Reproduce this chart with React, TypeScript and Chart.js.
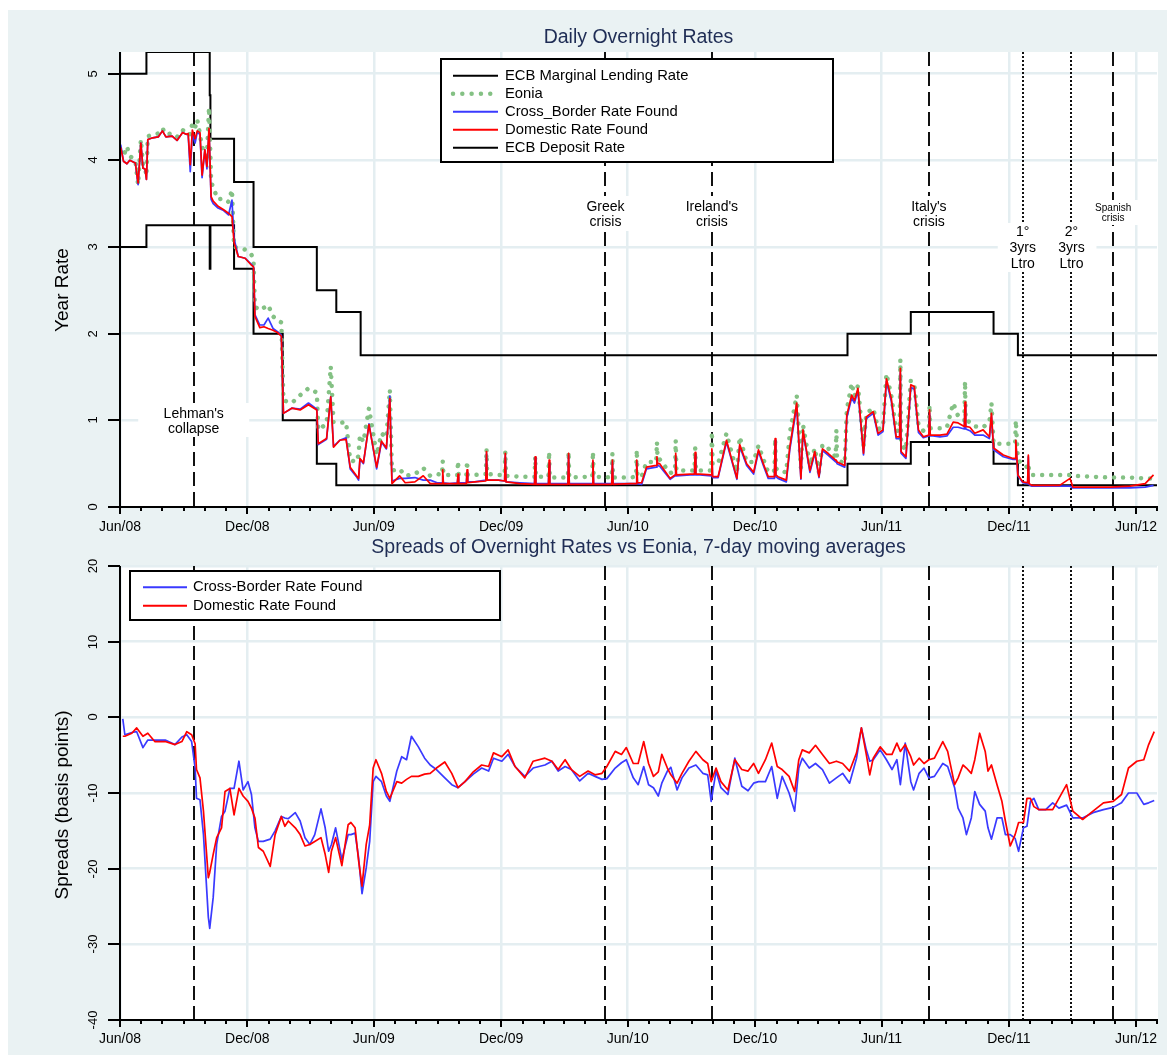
import React, { useEffect, useRef } from 'react';
import { Chart, registerables } from 'chart.js';

Chart.register(...registerables);

const FONT = "'Liberation Sans', Arial, Helvetica, sans-serif";
const BG = '#EAF2F3';
const GRID = '#E4EEF1';
const TITLE_COLOR = '#1F2D55';
const BLUE = '#3A3AFF';
const RED = '#FF0000';
const GREEN = '#84C184';

// ---------------- axis range & ticks ----------------
const X_START = '2008-06-01';
const X_END = '2012-07-01';
const majorTickDates = ['2008-06-01', '2008-12-01', '2009-06-01', '2009-12-01', '2010-06-01', '2010-12-01', '2011-06-01', '2011-12-01', '2012-06-01'];
const majorTickLabels = ['Jun/08', 'Dec/08', 'Jun/09', 'Dec/09', 'Jun/10', 'Dec/10', 'Jun/11', 'Dec/11', 'Jun/12'];
const topYTicks = [0, 1, 2, 3, 4, 5];
const topYTickLabels = ['0', '1', '2', '3', '4', '5'];
const bottomYTicks = [-40, -30, -20, -10, 0, 10, 20];
const bottomYTickLabels = ['-40', '-30', '-20', '-10', '0', '10', '20'];

// ---------------- events ----------------
const eventDates = ['2008-09-15', '2010-04-30', '2010-09-30', '2011-08-08', '2011-12-21', '2012-02-29', '2012-04-29'];
const eventStyles = ['dash', 'dash', 'dash', 'dash', 'dot', 'dot', 'dash'];
const eventLabels = [
  ["Lehman's", 'collapse'],
  ['Greek', 'crisis'],
  ["Ireland's", 'crisis'],
  ["Italy's", 'crisis'],
  ['1°', '3yrs', 'Ltro'],
  ['2°', '3yrs', 'Ltro'],
  ['Spanish', 'crisis'],
];

// ---------------- ECB corridor (step series) ----------------
const mlrDates = ['2008-06-01', '2008-07-09', '2008-10-08', '2008-10-09', '2008-11-12', '2008-12-10', '2009-03-11', '2009-04-08', '2009-05-13', '2011-04-13', '2011-07-13', '2011-11-09', '2011-12-14', '2012-07-01'];
const mlrValues = [5.0, 5.25, 4.75, 4.25, 3.75, 3.0, 2.5, 2.25, 1.75, 2.0, 2.25, 2.0, 1.75, 1.75];
const depDates = ['2008-06-01', '2008-07-09', '2008-10-08', '2008-10-09', '2008-11-12', '2008-12-10', '2009-01-21', '2009-03-11', '2009-04-08', '2011-04-13', '2011-07-13', '2011-11-09', '2011-12-14', '2012-07-01'];
const depValues = [3.0, 3.25, 2.75, 3.25, 2.75, 2.0, 1.0, 0.5, 0.25, 0.5, 0.75, 0.5, 0.25, 0.25];

// ---------------- daily overnight rates ----------------
const rateDates = [
  '2008-06-02', '2008-06-06', '2008-06-11', '2008-06-15', '2008-06-23', '2008-06-27', '2008-07-01', '2008-07-04', '2008-07-07', '2008-07-09',
  '2008-07-11', '2008-07-18', '2008-07-26', '2008-08-01', '2008-08-06', '2008-08-15', '2008-08-22', '2008-08-30', '2008-09-04', '2008-09-07',
  '2008-09-10', '2008-09-13', '2008-09-17', '2008-09-20', '2008-09-24', '2008-09-27', '2008-10-01', '2008-10-04', '2008-10-07', '2008-10-10',
  '2008-10-13', '2008-10-20', '2008-10-28', '2008-11-04', '2008-11-09', '2008-11-12', '2008-11-18', '2008-11-28', '2008-12-07', '2008-12-10',
  '2008-12-12', '2008-12-19', '2008-12-25', '2008-12-31', '2009-01-07', '2009-01-14', '2009-01-19', '2009-01-22', '2009-02-03', '2009-02-15',
  '2009-02-27', '2009-03-11', '2009-03-13', '2009-03-25', '2009-03-31', '2009-04-04', '2009-04-13', '2009-04-22', '2009-04-28', '2009-05-07',
  '2009-05-10', '2009-05-12', '2009-05-17', '2009-05-25', '2009-06-05', '2009-06-12', '2009-06-19', '2009-06-24', '2009-06-27', '2009-07-08',
  '2009-07-16', '2009-07-30', '2009-08-11', '2009-08-21', '2009-08-31', '2009-09-07', '2009-09-08', '2009-09-09', '2009-09-18', '2009-09-29',
  '2009-09-30', '2009-10-01', '2009-10-06', '2009-10-12', '2009-10-13', '2009-10-14', '2009-10-24', '2009-11-09', '2009-11-10', '2009-11-11',
  '2009-11-27', '2009-12-06', '2009-12-07', '2009-12-08', '2009-12-28', '2010-01-18', '2010-01-19', '2010-01-20', '2010-02-07', '2010-02-08',
  '2010-02-09', '2010-03-07', '2010-03-08', '2010-03-09', '2010-04-11', '2010-04-12', '2010-04-13', '2010-05-09', '2010-05-10', '2010-05-11',
  '2010-06-04', '2010-06-13', '2010-06-14', '2010-06-15', '2010-06-21', '2010-06-28', '2010-07-12', '2010-07-13', '2010-07-14', '2010-07-17',
  '2010-08-01', '2010-08-08', '2010-08-09', '2010-08-10', '2010-08-30', '2010-09-05', '2010-09-06', '2010-09-07', '2010-09-13', '2010-09-29',
  '2010-09-30', '2010-10-01', '2010-10-09', '2010-10-21', '2010-11-05', '2010-11-09', '2010-11-19', '2010-11-29', '2010-12-06', '2010-12-13',
  '2010-12-20', '2010-12-29', '2010-12-30', '2010-12-31', '2011-01-03', '2011-01-15', '2011-01-20', '2011-01-30', '2011-02-05', '2011-02-08',
  '2011-02-18', '2011-02-25', '2011-03-03', '2011-03-08', '2011-03-16', '2011-03-27', '2011-03-28', '2011-03-29', '2011-04-09', '2011-04-12',
  '2011-04-19', '2011-04-23', '2011-04-28', '2011-05-06', '2011-05-10', '2011-05-20', '2011-05-27', '2011-06-03', '2011-06-08', '2011-06-15',
  '2011-06-22', '2011-06-27', '2011-06-28', '2011-06-29', '2011-07-06', '2011-07-13', '2011-07-18', '2011-07-24', '2011-07-31', '2011-08-08',
  '2011-08-09', '2011-08-10', '2011-08-14', '2011-08-24', '2011-09-03', '2011-09-12', '2011-09-19', '2011-09-28', '2011-09-29', '2011-09-30',
  '2011-10-06', '2011-10-13', '2011-10-25', '2011-11-03', '2011-11-06', '2011-11-09', '2011-11-23', '2011-12-07', '2011-12-10', '2011-12-11',
  '2011-12-14', '2011-12-21', '2011-12-28', '2011-12-29', '2011-12-30', '2012-01-03', '2012-01-22', '2012-02-12', '2012-02-27', '2012-03-02',
  '2012-03-27', '2012-04-25', '2012-05-23', '2012-06-14', '2012-06-26',
];
const eoniaValues = [
  4.10, 4.05, 4.16, 4.05, 4.00, 3.72, 4.24, 3.95, 3.92, 3.82,
  4.28, 4.29, 4.31, 4.37, 4.30, 4.31, 4.27, 4.35, 4.32, 4.33,
  4.30, 4.43, 4.38, 4.47, 4.30, 4.15, 4.10, 4.05, 4.61, 3.76,
  3.68, 3.55, 3.56, 3.52, 3.66, 3.00, 2.99, 2.97, 2.91, 2.85,
  2.31, 2.27, 2.30, 2.33, 2.20, 2.15, 2.13, 1.23, 1.20, 1.29,
  1.37, 1.32, 0.89, 0.96, 1.62, 0.98, 0.97, 0.98, 0.54, 0.52,
  0.60, 0.83, 0.75, 1.14, 0.60, 0.85, 0.80, 1.35, 0.42, 0.44,
  0.36, 0.38, 0.45, 0.36, 0.38, 0.37, 0.53, 0.37, 0.37, 0.37,
  0.53, 0.37, 0.37, 0.37, 0.53, 0.37, 0.37, 0.38, 0.67, 0.38,
  0.37, 0.37, 0.64, 0.36, 0.35, 0.35, 0.58, 0.35, 0.35, 0.64,
  0.34, 0.34, 0.64, 0.34, 0.35, 0.64, 0.35, 0.34, 0.62, 0.34,
  0.34, 0.35, 0.66, 0.35, 0.35, 0.52, 0.52, 0.75, 0.55, 0.55,
  0.39, 0.42, 0.77, 0.42, 0.42, 0.42, 0.69, 0.42, 0.42, 0.42,
  0.87, 0.50, 0.50, 0.85, 0.40, 0.81, 0.52, 0.52, 0.71, 0.55,
  0.40, 0.42, 0.79, 0.45, 0.42, 0.40, 0.85, 1.29, 0.45, 0.95,
  0.48, 0.68, 0.40, 0.72, 0.68, 0.58, 0.89, 0.55, 0.50, 1.12,
  1.43, 1.28, 1.40, 0.70, 1.08, 1.14, 0.90, 0.92, 1.54, 1.28,
  0.88, 0.88, 1.70, 0.72, 0.66, 1.46, 1.42, 0.95, 0.88, 0.90,
  1.18, 0.91, 0.91, 0.91, 0.92, 1.20, 1.05, 1.00, 1.45, 1.00,
  0.98, 0.93, 0.92, 0.98, 1.20, 0.73, 0.73, 0.73, 0.73, 1.00,
  0.55, 0.48, 0.46, 0.50, 0.42, 0.37, 0.37, 0.37, 0.37, 0.36,
  0.35, 0.34, 0.34, 0.33, 0.33,
];
const crossBorderValues = [
  4.18, 3.99, 3.96, 4.00, 3.97, 3.72, 4.20, 3.91, 3.90, 3.78,
  4.24, 4.26, 4.27, 4.34, 4.27, 4.28, 4.23, 4.32, 4.30, 4.30,
  3.87, 4.30, 4.20, 4.32, 4.30, 3.80, 4.12, 3.90, 4.35, 3.55,
  3.50, 3.45, 3.42, 3.37, 3.54, 3.10, 2.89, 2.87, 2.80, 2.77,
  2.22, 2.10, 2.10, 2.18, 2.06, 2.02, 1.98, 1.08, 1.14, 1.13,
  1.20, 1.13, 0.72, 0.78, 1.27, 0.70, 0.77, 0.80, 0.44, 0.35,
  0.31, 0.55, 0.50, 0.96, 0.44, 0.75, 0.67, 1.28, 0.30, 0.33,
  0.33, 0.34, 0.31, 0.31, 0.28, 0.28, 0.36, 0.28, 0.27, 0.28,
  0.35, 0.28, 0.28, 0.28, 0.40, 0.29, 0.29, 0.31, 0.62, 0.31,
  0.31, 0.30, 0.60, 0.29, 0.28, 0.27, 0.57, 0.27, 0.27, 0.50,
  0.27, 0.27, 0.60, 0.27, 0.27, 0.52, 0.27, 0.27, 0.52, 0.27,
  0.27, 0.27, 0.52, 0.27, 0.26, 0.44, 0.46, 0.55, 0.48, 0.47,
  0.32, 0.36, 0.58, 0.36, 0.37, 0.37, 0.60, 0.37, 0.37, 0.36,
  0.65, 0.34, 0.34, 0.75, 0.32, 0.70, 0.48, 0.38, 0.64, 0.48,
  0.33, 0.33, 0.77, 0.35, 0.33, 0.29, 0.66, 1.16, 0.32, 0.87,
  0.40, 0.62, 0.34, 0.65, 0.60, 0.52, 0.52, 0.50, 0.46, 1.03,
  1.26, 1.20, 1.34, 0.60, 1.02, 1.08, 0.83, 0.87, 1.45, 1.22,
  0.79, 0.79, 1.55, 0.62, 0.56, 1.38, 1.36, 0.86, 0.80, 0.82,
  1.08, 0.82, 0.82, 0.81, 0.82, 0.92, 0.92, 0.90, 1.18, 0.90,
  0.88, 0.83, 0.83, 0.79, 1.05, 0.66, 0.58, 0.55, 0.55, 0.75,
  0.36, 0.28, 0.27, 0.58, 0.26, 0.24, 0.24, 0.24, 0.24, 0.22,
  0.22, 0.22, 0.22, 0.23, 0.25,
];
const domesticValues = [
  4.15, 3.99, 3.96, 4.00, 3.97, 3.74, 4.20, 3.91, 3.90, 3.78,
  4.24, 4.26, 4.27, 4.34, 4.27, 4.28, 4.23, 4.32, 4.30, 4.31,
  3.95, 4.35, 4.25, 4.34, 4.32, 3.83, 4.12, 3.93, 4.37, 3.58,
  3.53, 3.47, 3.43, 3.39, 3.35, 3.05, 2.89, 2.87, 2.79, 2.77,
  2.20, 2.07, 2.08, 2.06, 2.04, 2.01, 1.97, 1.08, 1.14, 1.12,
  1.18, 1.12, 0.73, 0.79, 1.27, 0.69, 0.77, 0.78, 0.46, 0.36,
  0.33, 0.56, 0.51, 0.95, 0.46, 0.76, 0.68, 1.25, 0.27, 0.36,
  0.28, 0.29, 0.36, 0.27, 0.27, 0.27, 0.43, 0.27, 0.27, 0.27,
  0.38, 0.27, 0.27, 0.27, 0.43, 0.28, 0.29, 0.30, 0.64, 0.31,
  0.31, 0.30, 0.62, 0.29, 0.27, 0.26, 0.58, 0.26, 0.26, 0.54,
  0.26, 0.26, 0.62, 0.26, 0.26, 0.54, 0.26, 0.26, 0.54, 0.26,
  0.27, 0.27, 0.54, 0.28, 0.28, 0.46, 0.48, 0.58, 0.50, 0.50,
  0.33, 0.37, 0.62, 0.37, 0.38, 0.38, 0.63, 0.38, 0.38, 0.37,
  0.67, 0.35, 0.35, 0.77, 0.33, 0.72, 0.50, 0.40, 0.66, 0.50,
  0.35, 0.35, 0.79, 0.37, 0.35, 0.31, 0.69, 1.20, 0.33, 0.89,
  0.42, 0.64, 0.35, 0.67, 0.62, 0.54, 0.54, 0.52, 0.48, 1.06,
  1.29, 1.23, 1.37, 0.62, 1.04, 1.10, 0.85, 0.89, 1.48, 1.25,
  0.81, 0.81, 1.60, 0.64, 0.58, 1.41, 1.39, 0.89, 0.81, 0.83,
  1.12, 0.83, 0.83, 0.83, 0.84, 0.98, 0.97, 0.93, 1.21, 0.93,
  0.92, 0.85, 0.89, 0.81, 1.08, 0.68, 0.60, 0.56, 0.56, 0.77,
  0.37, 0.29, 0.28, 0.60, 0.27, 0.25, 0.25, 0.25, 0.33, 0.23,
  0.23, 0.23, 0.24, 0.27, 0.37,
];

// ---------------- spreads vs Eonia (7-day moving averages, bp) ----------------
const spreadDates = [
  '2008-06-05', '2008-06-08', '2008-06-18', '2008-06-25', '2008-07-04', '2008-07-11', '2008-07-21', '2008-08-05', '2008-08-19', '2008-08-29',
  '2008-09-05', '2008-09-12', '2008-09-17', '2008-09-19', '2008-09-24', '2008-09-29', '2008-10-06', '2008-10-08', '2008-10-13', '2008-10-18',
  '2008-10-25', '2008-10-30', '2008-11-06', '2008-11-12', '2008-11-19', '2008-11-25', '2008-12-02', '2008-12-07', '2008-12-12', '2008-12-17',
  '2008-12-24', '2009-01-03', '2009-01-10', '2009-01-19', '2009-01-24', '2009-01-29', '2009-02-08', '2009-02-15', '2009-02-22', '2009-03-01',
  '2009-03-08', '2009-03-17', '2009-03-23', '2009-03-28', '2009-04-01', '2009-04-07', '2009-04-16', '2009-04-25', '2009-04-29', '2009-05-05',
  '2009-05-10', '2009-05-15', '2009-05-21', '2009-05-26', '2009-05-31', '2009-06-04', '2009-06-12', '2009-06-19', '2009-06-24', '2009-07-04',
  '2009-07-11', '2009-07-18', '2009-07-25', '2009-08-04', '2009-08-13', '2009-08-21', '2009-08-30', '2009-09-11', '2009-09-21', '2009-09-30',
  '2009-10-10', '2009-10-22', '2009-11-03', '2009-11-13', '2009-11-20', '2009-12-02', '2009-12-11', '2009-12-21', '2010-01-04', '2010-01-16',
  '2010-02-02', '2010-02-12', '2010-02-21', '2010-03-03', '2010-03-12', '2010-03-24', '2010-04-05', '2010-04-15', '2010-04-25', '2010-05-02',
  '2010-05-14', '2010-05-23', '2010-05-30', '2010-06-09', '2010-06-16', '2010-06-24', '2010-07-01', '2010-07-08', '2010-07-15', '2010-07-20',
  '2010-07-28', '2010-08-02', '2010-08-11', '2010-08-18', '2010-08-28', '2010-09-07', '2010-09-17', '2010-09-24', '2010-09-29', '2010-10-06',
  '2010-10-13', '2010-10-23', '2010-11-02', '2010-11-12', '2010-11-21', '2010-11-29', '2010-12-06', '2010-12-16', '2010-12-25', '2011-01-02',
  '2011-01-09', '2011-01-19', '2011-01-27', '2011-02-02', '2011-02-07', '2011-02-17', '2011-02-26', '2011-03-08', '2011-03-18', '2011-03-28',
  '2011-04-06', '2011-04-16', '2011-04-26', '2011-05-03', '2011-05-10', '2011-05-15', '2011-05-20', '2011-05-30', '2011-06-08', '2011-06-16',
  '2011-06-23', '2011-06-28', '2011-07-05', '2011-07-13', '2011-07-17', '2011-07-25', '2011-08-01', '2011-08-08', '2011-08-16', '2011-08-28',
  '2011-09-04', '2011-09-14', '2011-09-19', '2011-09-26', '2011-10-01', '2011-10-08', '2011-10-13', '2011-10-20', '2011-10-28', '2011-11-01',
  '2011-11-06', '2011-11-14', '2011-11-21', '2011-11-26', '2011-12-03', '2011-12-10', '2011-12-15', '2011-12-22', '2011-12-27', '2012-01-01',
  '2012-01-06', '2012-01-13', '2012-01-23', '2012-02-02', '2012-02-11', '2012-02-22', '2012-03-02', '2012-03-16', '2012-03-31', '2012-04-15',
  '2012-04-29', '2012-05-11', '2012-05-21', '2012-06-02', '2012-06-12', '2012-06-19', '2012-06-27',
];
const crossBorderSpread = [
  -0.2, -2.3, -2.0, -1.9, -4.0, -3.0, -3.0, -3.0, -3.6, -2.6,
  -2.3, -3.2, -6.7, -10.7, -10.9, -15.5, -26.4, -27.9, -23.8, -16.8,
  -13.1, -12.4, -9.4, -9.4, -5.8, -9.6, -8.5, -10.2, -14.6, -16.4,
  -16.4, -16.1, -15.0, -13.1, -13.3, -13.4, -12.6, -13.7, -15.9, -16.8,
  -15.5, -12.1, -14.6, -17.7, -16.8, -14.6, -18.8, -15.5, -15.5, -15.3,
  -18.5, -23.3, -19.9, -16.4, -8.5, -7.8, -8.5, -10.4, -11.1, -7.1,
  -5.2, -5.6, -2.5, -3.9, -5.4, -6.3, -6.9, -8.0, -8.9, -9.3,
  -8.5, -7.5, -6.7, -7.1, -5.4, -5.8, -4.9, -6.5, -7.8, -6.7,
  -6.3, -5.8, -7.1, -6.5, -6.9, -8.4, -7.4, -7.8, -8.2, -8.1,
  -6.7, -6.0, -5.6, -8.0, -8.9, -6.5, -8.9, -9.3, -10.4, -8.7,
  -7.1, -6.6, -9.6, -8.0, -6.7, -6.3, -7.4, -7.6, -11.1, -7.1,
  -9.3, -10.2, -5.4, -9.1, -9.7, -8.7, -8.5, -8.5, -6.5, -10.7,
  -7.8, -10.0, -12.4, -6.7, -5.4, -6.7, -6.1, -6.9, -8.7, -8.0,
  -7.4, -8.7, -5.4, -1.4, -4.3, -5.8, -5.6, -4.3, -5.6, -6.9,
  -5.6, -8.9, -3.4, -8.5, -9.6, -7.4, -6.7, -8.0, -7.8, -6.1,
  -6.5, -9.3, -12.0, -13.3, -15.5, -13.3, -9.8, -11.5, -12.4, -14.6,
  -16.1, -13.3, -13.3, -15.5, -15.5, -16.0, -17.7, -14.6, -14.4, -11.1,
  -10.7, -12.2, -12.2, -11.3, -12.0, -11.6, -13.3, -13.3, -12.6, -12.2,
  -11.9, -11.3, -10.0, -10.0, -11.5, -11.3, -11.0,
];
const domesticSpread = [
  -2.5, -2.5, -2.1, -1.4, -2.5, -2.1, -3.2, -3.2, -3.6, -3.2,
  -1.9, -2.3, -3.5, -6.9, -8.0, -12.4, -21.2, -20.5, -18.1, -15.9,
  -14.6, -9.8, -9.4, -12.9, -9.4, -10.4, -11.1, -12.0, -13.3, -17.2,
  -17.7, -19.7, -15.5, -13.1, -14.4, -13.7, -14.6, -15.5, -17.0, -16.8,
  -16.4, -15.9, -18.1, -20.5, -17.7, -15.9, -19.6, -14.2, -13.9, -14.6,
  -18.9, -22.3, -16.8, -14.2, -6.7, -5.6, -7.4, -9.8, -10.7, -8.5,
  -8.7, -8.2, -7.8, -7.8, -7.5, -7.4, -6.7, -5.9, -7.4, -9.3,
  -8.5, -7.2, -6.3, -6.5, -4.7, -5.2, -4.3, -6.5, -8.0, -5.8,
  -5.4, -5.8, -6.9, -5.6, -6.9, -7.8, -7.1, -7.6, -7.4, -6.5,
  -4.5, -4.9, -4.0, -6.1, -6.1, -3.2, -6.1, -7.8, -7.2, -4.9,
  -6.7, -7.6, -8.7, -7.4, -5.8, -4.5, -5.6, -6.1, -8.5, -6.7,
  -8.5, -9.6, -5.6, -6.9, -7.1, -6.1, -7.4, -5.6, -3.4, -6.5,
  -6.9, -7.8, -9.8, -5.6, -4.3, -4.7, -3.7, -4.9, -6.1, -5.8,
  -6.1, -7.1, -4.7, -1.4, -4.9, -7.6, -5.4, -3.9, -4.9, -4.9,
  -3.4, -4.5, -3.6, -5.2, -6.3, -5.4, -6.1, -5.6, -5.4, -3.2,
  -4.5, -8.9, -8.0, -6.3, -6.7, -7.4, -5.6, -2.1, -4.5, -7.1,
  -6.3, -8.9, -11.1, -13.7, -17.0, -15.5, -13.9, -13.9, -10.7, -10.7,
  -11.8, -12.2, -12.2, -12.2, -10.7, -8.9, -12.4, -13.5, -12.4, -11.3,
  -11.1, -10.2, -6.7, -5.8, -5.6, -3.6, -1.9,
];

// ---------------- helpers ----------------
const toDay = (s: string): number => {
  const [y, m, d] = s.split('-').map(Number);
  return (Date.UTC(y, m - 1, d) - Date.UTC(2008, 5, 1)) / 86400000;
};
const X_MIN = toDay(X_START);
const X_MAX = toDay(X_END);

const monthTicks: number[] = (() => {
  const out: number[] = [];
  let y = 2008;
  let m = 5;
  while (true) {
    const v = (Date.UTC(y, m, 1) - Date.UTC(2008, 5, 1)) / 86400000;
    if (v > X_MAX) break;
    out.push(v);
    m += 1;
    if (m === 12) { m = 0; y += 1; }
  }
  return out;
})();
const majorDays = new Set(majorTickDates.map(toDay));

const pts = (dates: string[], vals: number[]) => dates.map((d, i) => ({ x: toDay(d), y: vals[i] }));

type LabelLayout = { top: number; bottom: number; width: number; first: number; gap: number; font: number };
const eventLabelLayout: LabelLayout[] = [
  { top: 393, bottom: 427, width: 111, first: 404, gap: 15, font: 14 },
  { top: 186, bottom: 221, width: 60, first: 197, gap: 15, font: 14 },
  { top: 186, bottom: 221, width: 66, first: 197, gap: 15, font: 14 },
  { top: 186, bottom: 221, width: 60, first: 197, gap: 15, font: 14 },
  { top: 213, bottom: 262, width: 50, first: 222, gap: 16, font: 14 },
  { top: 213, bottom: 262, width: 50, first: 222, gap: 16, font: 14 },
  { top: 190, bottom: 215, width: 50, first: 198.5, gap: 10, font: 10 },
];

type LegendItem = { text: string; color: string; dotted?: boolean };
type PanelSpec = {
  height: number;
  padTop: number;
  xAxisH: number;
  yMin: number;
  yMax: number;
  yTicks: number[];
  yTickLabels: string[];
  title: string;
  titleY: number;
  yTitle: string;
  yTitleY: number;
  xLabelOffset: number;
  showEventLabels: boolean;
  legend: { x: number; y: number; w: number; h: number; rowY: number; rowGap: number; sx1: number; sx2: number; tx: number; items: LegendItem[] };
};

function panelPlugin(p: PanelSpec) {
  return {
    id: 'panelDecor',
    beforeDraw(chart: any) {
      const { ctx, chartArea: a } = chart;
      ctx.save();
      ctx.fillStyle = '#FFFFFF';
      ctx.fillRect(a.left, a.top, a.right - a.left + 1, a.bottom - a.top);
      ctx.restore();
    },
    beforeDatasetsDraw(chart: any) {
      const { ctx, chartArea: a, scales } = chart;
      const xs = scales.x;
      ctx.save();
      ctx.strokeStyle = '#111';
      ctx.lineWidth = 2;
      eventDates.forEach((d, i) => {
        const x = Math.round(xs.getPixelForValue(toDay(d)));
        ctx.setLineDash(eventStyles[i] === 'dot' ? [2, 2] : [14, 6]);
        ctx.beginPath();
        ctx.moveTo(x, a.top);
        ctx.lineTo(x, a.bottom);
        ctx.stroke();
      });
      ctx.setLineDash([]);
      if (p.showEventLabels) {
        eventLabels.forEach((lines, i) => {
          const L = eventLabelLayout[i];
          const x = xs.getPixelForValue(toDay(eventDates[i]));
          ctx.fillStyle = '#FFFFFF';
          ctx.fillRect(x - L.width / 2, L.top, L.width, L.bottom - L.top);
          ctx.fillStyle = '#000';
          ctx.font = `${L.font}px ${FONT}`;
          ctx.textAlign = 'center';
          ctx.textBaseline = 'middle';
          lines.forEach((t, j) => ctx.fillText(t, x, L.first + j * L.gap));
        });
      }
      ctx.restore();
    },
    afterDraw(chart: any) {
      const { ctx, chartArea: a, scales } = chart;
      const xs = scales.x;
      const ys = scales.y;
      ctx.save();
      ctx.strokeStyle = '#000';
      ctx.fillStyle = '#000';
      ctx.lineWidth = 2;
      // axis lines
      ctx.beginPath();
      ctx.moveTo(a.left, a.top);
      ctx.lineTo(a.left, a.bottom + 1);
      ctx.moveTo(a.left - 1, a.bottom);
      ctx.lineTo(a.right + 1, a.bottom);
      ctx.stroke();
      // y ticks + rotated labels
      ctx.font = `13px ${FONT}`;
      ctx.textAlign = 'center';
      ctx.textBaseline = 'middle';
      p.yTicks.forEach((v, i) => {
        const y = Math.round(ys.getPixelForValue(v));
        ctx.beginPath();
        ctx.moveTo(a.left - 12, y);
        ctx.lineTo(a.left, y);
        ctx.stroke();
        ctx.save();
        ctx.translate(a.left - 27, y);
        ctx.rotate(-Math.PI / 2);
        ctx.fillText(p.yTickLabels[i], 0, 0);
        ctx.restore();
      });
      // x ticks
      monthTicks.forEach((v) => {
        const x = Math.round(xs.getPixelForValue(v));
        const major = majorDays.has(v);
        ctx.beginPath();
        ctx.moveTo(x, a.bottom);
        ctx.lineTo(x, a.bottom + (major ? 7 : 4));
        ctx.stroke();
      });
      ctx.font = `14px ${FONT}`;
      majorTickDates.forEach((d, i) => {
        const x = xs.getPixelForValue(toDay(d));
        ctx.fillText(majorTickLabels[i], x, a.bottom + p.xLabelOffset);
      });
      // y title
      ctx.save();
      ctx.font = `19px ${FONT}`;
      ctx.translate(55, p.yTitleY);
      ctx.rotate(-Math.PI / 2);
      ctx.fillText(p.yTitle, 0, 0);
      ctx.restore();
      // title
      ctx.fillStyle = TITLE_COLOR;
      ctx.font = `19.5px ${FONT}`;
      ctx.fillText(p.title, (a.left + a.right) / 2, p.titleY);
      // legend
      const lg = p.legend;
      ctx.fillStyle = '#FFFFFF';
      ctx.fillRect(lg.x, lg.y, lg.w, lg.h);
      ctx.strokeStyle = '#000';
      ctx.lineWidth = 2;
      ctx.strokeRect(lg.x, lg.y, lg.w, lg.h);
      ctx.textAlign = 'left';
      ctx.font = `14.8px ${FONT}`;
      lg.items.forEach((it, i) => {
        const y = lg.rowY + i * lg.rowGap;
        ctx.save();
        ctx.strokeStyle = it.color;
        if (it.dotted) {
          ctx.lineWidth = 4.5;
          ctx.lineCap = 'round';
          ctx.setLineDash([0.01, 9.3]);
        } else {
          ctx.lineWidth = 2;
        }
        ctx.beginPath();
        ctx.moveTo(lg.sx1, y);
        ctx.lineTo(lg.sx2, y);
        ctx.stroke();
        ctx.restore();
        ctx.fillStyle = '#000';
        ctx.fillText(it.text, lg.tx, y);
      });
      ctx.restore();
    },
  };
}

function buildOptions(p: PanelSpec): any {
  return {
    responsive: false,
    maintainAspectRatio: false,
    animation: false,
    devicePixelRatio: 1,
    events: [],
    layout: { padding: { top: p.padTop, right: 10, left: 0, bottom: 0 } },
    elements: { point: { radius: 0 }, line: { tension: 0 } },
    plugins: { legend: { display: false }, tooltip: { enabled: false }, title: { display: false } },
    scales: {
      x: {
        type: 'linear',
        min: X_MIN,
        max: X_MAX,
        afterBuildTicks: (s: any) => { s.ticks = monthTicks.map((v) => ({ value: v })); },
        afterFit: (s: any) => { s.height = p.xAxisH; },
        ticks: { display: false, autoSkip: false },
        grid: {
          color: (c: any) => (c.tick && majorDays.has(c.tick.value) ? GRID : 'rgba(0,0,0,0)'),
          lineWidth: 2.5,
          drawTicks: false,
        },
        border: { display: false },
      },
      y: {
        type: 'linear',
        min: p.yMin,
        max: p.yMax,
        afterBuildTicks: (s: any) => { s.ticks = p.yTicks.map((v) => ({ value: v })); },
        afterFit: (s: any) => { s.width = 112; },
        ticks: { display: false },
        grid: { color: GRID, lineWidth: 2.5, drawTicks: false },
        border: { display: false },
      },
    },
  };
}

const topSpec: PanelSpec = {
  height: 525,
  padTop: 42,
  xAxisH: 28,
  yMin: 0,
  yMax: 5.25,
  yTicks: topYTicks,
  yTickLabels: topYTickLabels,
  title: 'Daily Overnight Rates',
  titleY: 28,
  yTitle: 'Year Rate',
  yTitleY: 280,
  xLabelOffset: 20,
  showEventLabels: true,
  legend: {
    x: 433, y: 49, w: 392, h: 103, rowY: 65.7, rowGap: 18, sx1: 445, sx2: 490, tx: 497,
    items: [
      { text: 'ECB Marginal Lending Rate', color: '#000' },
      { text: 'Eonia', color: GREEN, dotted: true },
      { text: 'Cross_Border Rate Found', color: BLUE },
      { text: 'Domestic Rate Found', color: RED },
      { text: 'ECB Deposit Rate', color: '#000' },
    ],
  },
};

const bottomSpec: PanelSpec = {
  height: 520,
  padTop: 31,
  xAxisH: 35,
  yMin: -40,
  yMax: 20,
  yTicks: bottomYTicks,
  yTickLabels: bottomYTickLabels,
  title: 'Spreads of Overnight Rates vs Eonia, 7-day moving averages',
  titleY: 13,
  yTitle: 'Spreads (basis points)',
  yTitleY: 270,
  xLabelOffset: 19,
  showEventLabels: false,
  legend: {
    x: 122, y: 36, w: 370, h: 49, rowY: 52.3, rowGap: 18.4, sx1: 135, sx2: 179, tx: 185,
    items: [
      { text: 'Cross-Border Rate Found', color: BLUE },
      { text: 'Domestic Rate Found', color: RED },
    ],
  },
};

function TopChart() {
  const ref = useRef<HTMLCanvasElement | null>(null);
  useEffect(() => {
    if (!ref.current) return;
    const chart = new Chart(ref.current, {
      type: 'line',
      data: {
        datasets: [
          { label: 'ECB Marginal Lending Rate', data: pts(mlrDates, mlrValues), borderColor: '#000', borderWidth: 2, stepped: 'before', pointRadius: 0, fill: false, order: 5 } as any,
          { label: 'Eonia', data: pts(rateDates, eoniaValues), borderColor: GREEN, borderWidth: 4.5, borderDash: [0.01, 9], borderCapStyle: 'round', pointRadius: 0, fill: false, order: 3 },
          { label: 'Cross_Border Rate Found', data: pts(rateDates, crossBorderValues), borderColor: BLUE, borderWidth: 1.7, borderJoinStyle: 'round', pointRadius: 0, fill: false, order: 2 },
          { label: 'Domestic Rate Found', data: pts(rateDates, domesticValues), borderColor: RED, borderWidth: 1.7, borderJoinStyle: 'round', pointRadius: 0, fill: false, order: 1 },
          { label: 'ECB Deposit Rate', data: pts(depDates, depValues), borderColor: '#000', borderWidth: 2, stepped: 'before', pointRadius: 0, fill: false, order: 5 } as any,
        ],
      },
      options: buildOptions(topSpec),
      plugins: [panelPlugin(topSpec)],
    });
    return () => chart.destroy();
  }, []);
  return <canvas ref={ref} width={1159} height={topSpec.height} style={{ display: 'block', width: 1159, height: topSpec.height }} />;
}

function BottomChart() {
  const ref = useRef<HTMLCanvasElement | null>(null);
  useEffect(() => {
    if (!ref.current) return;
    const chart = new Chart(ref.current, {
      type: 'line',
      data: {
        datasets: [
          { label: 'Cross-Border Rate Found', data: pts(spreadDates, crossBorderSpread), borderColor: BLUE, borderWidth: 1.7, borderJoinStyle: 'round', pointRadius: 0, fill: false, order: 2 },
          { label: 'Domestic Rate Found', data: pts(spreadDates, domesticSpread), borderColor: RED, borderWidth: 1.7, borderJoinStyle: 'round', pointRadius: 0, fill: false, order: 1 },
        ],
      },
      options: buildOptions(bottomSpec),
      plugins: [panelPlugin(bottomSpec)],
    });
    return () => chart.destroy();
  }, []);
  return <canvas ref={ref} width={1159} height={bottomSpec.height} style={{ display: 'block', width: 1159, height: bottomSpec.height }} />;
}

export default function App() {
  return (
    <div style={{ position: 'absolute', left: 8, top: 10, width: 1159, height: 1045, background: BG, fontFamily: FONT }}>
      <TopChart />
      <BottomChart />
    </div>
  );
}
